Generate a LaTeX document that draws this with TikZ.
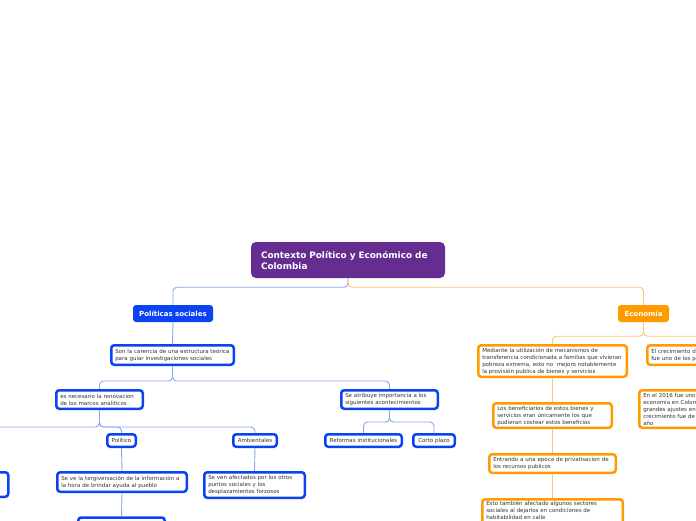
\documentclass[tikz,border=0pt]{standalone}
\usepackage{fontspec}
\setmainfont{DejaVu Sans}
\definecolor{rootpurple}{HTML}{662D91}
\definecolor{boxblue}{HTML}{0B43F2}
\definecolor{boxorange}{HTML}{FF9A00}
\definecolor{lineblue}{HTML}{86A4F4}
\definecolor{lineorange}{HTML}{FFC670}
\definecolor{txt}{HTML}{333333}
\newcommand\smallf{\fontsize{5.5}{7}\selectfont}
\tikzset{
 bbox/.style={draw=boxblue, line width=2.5pt, rounded corners=3pt, fill=white, text=txt, font=\smallf, inner xsep=4pt, inner ysep=1pt, align=left},
 obox/.style={bbox, draw=boxorange},
 cbox/.style={bbox, align=center},
 rootbox/.style={fill=rootpurple, rounded corners=5pt, text=white, font=\bfseries\fontsize{8.9}{11}\selectfont, text width=174pt, inner xsep=10pt, minimum height=36pt, align=left},
 topbox/.style={rounded corners=3pt, text=white, font=\bfseries\fontsize{7}{8}\selectfont, minimum height=17pt, inner sep=0pt},
 bl/.style={draw=lineblue, line width=0.9pt, rounded corners=4pt},
 ol/.style={draw=lineorange, line width=0.9pt, rounded corners=4pt},
}
\begin{document}
\begin{tikzpicture}[x=1pt,y=-1pt]
\useasboundingbox (0,0) rectangle (696,520);
\clip (0,0) rectangle (696,520);
% nodes
\node[rootbox] (root) at (348,260) {Contexto Político y Económico de\\Colombia};
\node[topbox, fill=boxblue, minimum width=80pt] (pol) at (173,313.5) {Políticas sociales};
\node[topbox, fill=boxorange, minimum width=51pt] (eco) at (643.5,313.5) {Economía};
\node[bbox, text width=114.5pt, minimum height=19.5pt] (son) at (172.5,355) {Son la carencia de una estructura teórica\\para guiar investigaciones sociales};
\node[bbox, text width=78.5pt, minimum height=18.5pt] (esn) at (99.5,399.5) {es necesario la renovacion\\de los marcos analiticos};
\node[bbox, text width=88.5pt, minimum height=18.5pt] (atr) at (389.5,399.5) {Se atribuye importancia a los\\siguientes acontecimientos};
\node[cbox, text width=20.5pt, minimum height=12.5pt] (politico) at (121.5,440.5) {Político};
\node[cbox, text width=35.5pt, minimum height=12.5pt] (amb) at (255,440.5) {Ambientales};
\node[cbox, text width=68.5pt, minimum height=12.5pt] (ref) at (363.5,440.5) {Reformas institucionales};
\node[cbox, text width=33.5pt, minimum height=12.5pt] (corto) at (434,440.5) {Corto plazo};
\node[bbox, text width=121.5pt, minimum height=19.5pt] (tergi) at (122,482) {Se ve la tergiversación de la información a\\la hora de brindar ayuda al pueblo};
\node[bbox, text width=92.5pt, minimum height=25.5pt] (afect) at (254.5,485) {Se ven afectados por los otros\\puntos sociales y los\\desplazamientos forzosos};
\node[bbox, text width=78.5pt, minimum height=25pt] (bottomblue) at (121.5,530) {};
\node[bbox, text width=78.5pt, minimum height=24.5pt] (leftblue) at (-35,484.5) {};
\coordinate (offleft) at (-35,433);
\node[obox, text width=140.5pt, minimum height=31.5pt] (med) at (552.5,361) {Mediante la utilización de mecanismos de\\transferencia condicionada a familias que vivieran\\pobreza extrema, esto no\ \ mejoro notablemente\\la provisión publica de bienes y servicios};
\node[obox, text width=110.5pt, minimum height=24.5pt] (ben) at (552.5,415.5) {Los beneficiarios de estos bienes y\\servicios eran únicamente los que\\pudieran costear estos beneficios};
\node[obox, text width=118.5pt, minimum height=18.5pt] (entr) at (552.5,463.5) {Entrando a una epoca de privatisacion de\\los recursos publicos};
\node[obox, text width=132.5pt, anchor=north, inner ysep=2pt] (esto) at (552.5,498) {Esto también afectado algunos sectores\\sociales al dejarlos en condiciones de\\habitabilidad en calle\\\rule{0pt}{8pt}};
\node[obox, text width=119.5pt, minimum height=19.5pt] (crec) at (711,355) {El crecimiento d\\fue uno de los p};
\node[obox, text width=135.5pt, minimum height=37.5pt] (en2016) at (711,409) {En el 2016 fue uno\\economía en Colom\\grandes ajustes en\\crecimiento fue de\\año};
% connectors
\draw[bl] (root.south) -- ++(0,9) -| (pol.north);
\draw[ol] (root.south) -- ++(0,9) -| (eco.north);
\draw[bl] (pol.south) -- (son.north);
\draw[bl] (son.south) -- ++(0,15) -| (esn.north);
\draw[bl] (son.south) -- ++(0,15) -| (atr.north);
\draw[bl] (esn.south) -- ++(0,17) -| (politico.north);
\draw[bl] (esn.south) -- ++(0,17) -| (amb.north);
\draw[bl] (esn.south) -- ++(0,17) -| (offleft);
\draw[bl] (politico.south) -- (tergi.north);
\draw[bl] (tergi.south) -- (bottomblue.north);
\draw[bl] (amb.south) -- (afect.north);
\draw[bl] (atr.south) -- ++(0,12) -| (ref.north);
\draw[bl] (atr.south) -- ++(0,12) -| (corto.north);
\draw[ol] (eco.south) -- ++(0,14) -| (med.north);
\draw[ol] (eco.south) -- ++(0,14) -| (crec.north);
\draw[ol] (med.south) -- (ben.north);
\draw[ol] (ben.south) -- (entr.north);
\draw[ol] (entr.south) -- (esto.north);
\draw[ol] (crec.south) -- (en2016.north);
\end{tikzpicture}
\end{document}
